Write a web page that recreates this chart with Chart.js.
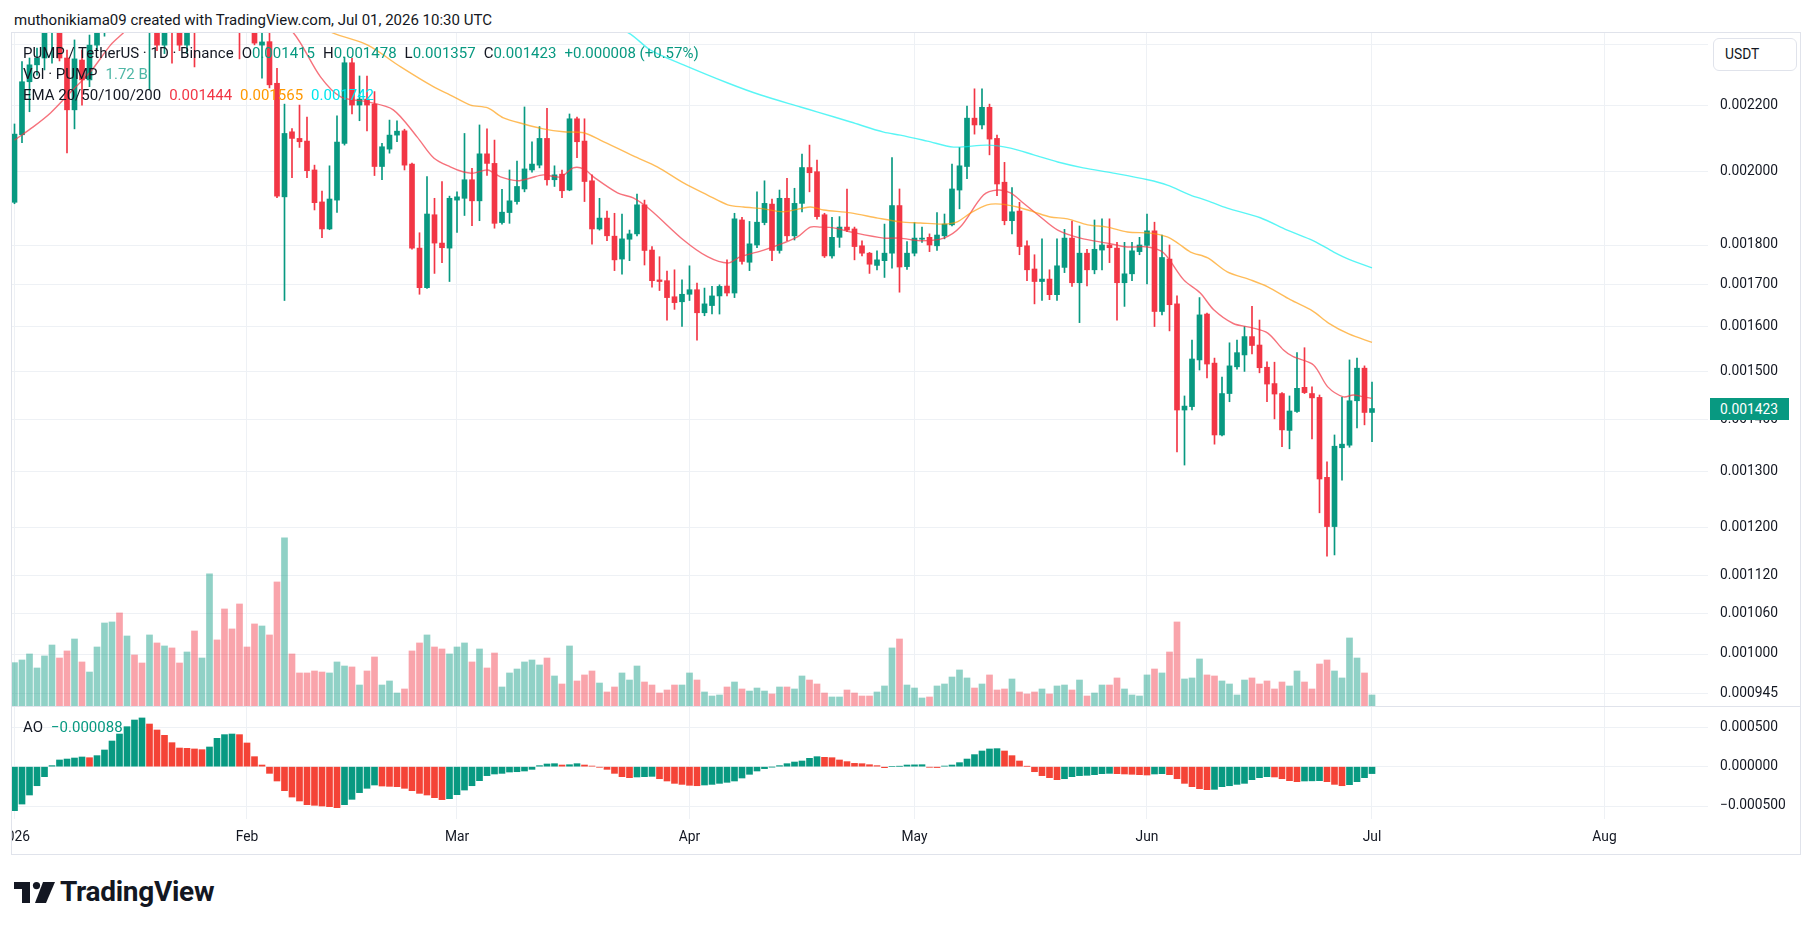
<!DOCTYPE html>
<html>
<head>
<meta charset="utf-8">
<title>PUMP / TetherUS · 1D · Binance</title>
<script src="https://cdn.jsdelivr.net/npm/chart.js@4.4.1/dist/chart.umd.min.js"></script>
<style>
  html, body { margin:0; padding:0; background:#ffffff; }
  body { width:1814px; height:930px; position:relative; overflow:hidden;
         font-family: Roboto, "Noto Sans", "DejaVu Sans", sans-serif; color:#131722; }
  .abs { position:absolute; white-space:nowrap; }
  canvas { position:absolute; display:block; }
  #title { left:14px; top:10px; font-size:15px; line-height:20px; }
  .leg { left:23px; font-size:15px; line-height:20px; }
  .g { color:#089981; }
  .sp { margin-left:8px; }
  #frame { left:11px; top:32px; width:1790px; height:823px; border:1px solid #e0e3eb; box-sizing:border-box; pointer-events:none; }
  #sep { left:12px; top:706px; width:1788px; height:1px; background:#e0e3eb; }
  #usdt { left:1713px; top:38px; width:84px; height:33px; border:1px solid #e0e3eb; border-radius:6px; box-sizing:border-box; background:#fff; font-size:13.8px; line-height:31px; padding-left:11px; }
  #tag { left:1710px; top:397px; width:79px; height:22px; background:#089981; color:#fff; font-size:13.8px; line-height:22px; padding-left:10px; box-sizing:border-box; }
  #logo { left:14px; top:882px; }
  #logotext { left:60px; top:875px; font-size:28px; font-weight:700; line-height:34px; letter-spacing:-0.3px; color:#131722; }
</style>
</head>
<body>
<div id="title" class="abs">muthonikiama09 created with TradingView.com, Jul 01, 2026 10:30 UTC</div>
<canvas id="main" width="1788" height="674" style="left:12px;top:32px"></canvas>
<canvas id="ao" width="1788" height="148" style="left:12px;top:706px"></canvas>
<div id="sep" class="abs"></div>
<div id="frame" class="abs"></div>

<div class="abs leg" style="top:43px"><span id="sym">PUMP / TetherUS · 1D · Binance</span><span class="sp">O</span><span class="g" id="vO"></span><span class="sp">H</span><span class="g" id="vH"></span><span class="sp">L</span><span class="g" id="vL"></span><span class="sp">C</span><span class="g" id="vC"></span><span class="sp g" id="vChg"></span></div>
<div class="abs leg" style="top:64px">Vol · PUMP<span class="sp" style="color:#4fb7a6" id="vVol"></span></div>
<div class="abs leg" style="top:85px">EMA 20/50/100/200<span class="sp" style="color:#f23645" id="vE20"></span><span class="sp" style="color:#ff9800" id="vE50"></span><span class="sp" style="color:#00e5ee" id="vE100"></span></div>
<div class="abs leg" style="top:717px">AO<span class="sp g" id="vAO"></span></div>

<div id="usdt" class="abs">USDT</div>
<div id="tag" class="abs"></div>

<svg id="logo" class="abs" width="42" height="22" viewBox="0 0 42 22">
  <rect x="0" y="0" width="16" height="7" fill="#131722"/>
  <rect x="8" y="0" width="8" height="21" fill="#131722"/>
  <circle cx="22.5" cy="3.6" r="3.6" fill="#131722"/>
  <polygon points="29,0 41,0 32,21 21,21" fill="#131722"/>
</svg>
<div id="logotext" class="abs">TradingView</div>

<script>
// ---------------- DATA (prices in units of 0.001 USDT) ----------------
const PRICE_UNIT = 1e-3;
const startDate = '2026-01-01';           // day index 0
const monthTickDays   = [0, 31, 59, 90, 120, 151, 181, 212];
const monthTickLabels = ['2026', 'Feb', 'Mar', 'Apr', 'May', 'Jun', 'Jul', 'Aug'];
const priceTicks = [0.000945, 0.001, 0.00106, 0.00112, 0.0012, 0.0013, 0.0014, 0.0015, 0.0016, 0.0017, 0.0018, 0.002, 0.0022, 0.0024];
const priceTicksUnlabeled = [0.0024];     // gridline only (label sits under the currency box)
const aoTicks = [-0.0005, 0, 0.0005];

const opensM = [
1.914,2.109,2.276,2.332,2.355,2.480,2.560,2.355,2.186,2.348,
2.282,2.399,2.470,2.520,2.600,2.550,2.680,2.630,2.570,2.640,
2.399,2.550,2.500,2.399,2.490,2.460,2.550,2.620,2.580,2.530,
2.490,2.460,2.455,2.399,2.411,2.271,1.929,2.118,2.098,2.090,
2.005,1.915,1.842,1.920,2.083,2.339,2.201,2.220,2.204,2.015,
2.066,2.108,2.121,2.022,1.792,1.693,1.880,1.805,1.792,1.920,
1.925,1.977,1.918,2.052,2.024,1.859,1.886,1.916,1.951,2.005,
2.019,2.098,1.977,1.993,1.948,2.158,2.090,1.974,1.842,1.871,
1.823,1.764,1.815,1.829,1.907,1.787,1.712,1.710,1.671,1.659,
1.677,1.688,1.633,1.650,1.673,1.697,1.680,1.866,1.756,1.800,
1.859,1.909,1.786,1.925,1.824,1.911,2.012,2.000,1.880,1.772,
1.820,1.847,1.842,1.798,1.779,1.748,1.760,1.779,1.905,1.745,
1.779,1.815,1.820,1.798,1.824,1.853,1.948,2.015,2.160,2.139,
2.194,2.098,1.970,1.864,1.890,1.798,1.739,1.708,1.714,1.676,
1.743,1.818,1.705,1.779,1.737,1.787,1.800,1.792,1.705,1.727,
1.783,1.799,1.837,1.636,1.764,1.654,1.420,1.427,1.526,1.630,
1.519,1.370,1.454,1.511,1.537,1.578,1.559,1.510,1.475,1.454,
1.379,1.417,1.467,1.454,1.446,1.289,1.201,1.345,1.350,1.439,
1.508,1.415];
const highsM = [
2.142,2.343,2.355,2.389,2.520,2.600,2.620,2.382,2.417,2.382,
2.434,2.500,2.560,2.640,2.660,2.720,2.740,2.660,2.680,2.660,
2.580,2.600,2.540,2.520,2.550,2.600,2.660,2.660,2.610,2.560,
2.530,2.500,2.500,2.470,2.460,2.320,2.204,2.128,2.201,2.163,
2.019,1.945,2.017,2.167,2.358,2.355,2.295,2.295,2.244,2.083,
2.154,2.152,2.126,2.025,1.832,1.986,1.925,1.972,1.931,1.943,
2.113,2.010,2.139,2.127,2.093,1.950,2.005,2.031,2.195,2.088,
2.134,2.191,2.017,2.005,2.173,2.163,2.158,1.991,1.925,1.890,
1.884,1.882,1.839,1.937,1.920,1.796,1.770,1.734,1.737,1.712,
1.747,1.704,1.692,1.696,1.700,1.762,1.884,1.873,1.862,1.943,
1.974,1.923,1.948,1.981,1.953,2.051,2.078,2.034,1.884,1.873,
1.875,1.951,1.847,1.811,1.781,1.785,1.855,2.041,1.951,1.809,
1.859,1.847,1.829,1.886,1.882,2.022,2.071,2.198,2.253,2.253,
2.204,2.108,2.027,1.955,1.914,1.811,1.775,1.816,1.737,1.816,
1.841,1.863,1.850,1.789,1.866,1.869,1.869,1.807,1.807,1.807,
1.820,1.882,1.860,1.826,1.800,1.673,1.449,1.570,1.669,1.632,
1.530,1.489,1.564,1.570,1.601,1.648,1.616,1.522,1.521,1.456,
1.449,1.542,1.553,1.468,1.451,1.318,1.370,1.446,1.526,1.530,
1.513,1.478];
const lowsM = [
1.910,2.085,2.180,2.298,2.315,2.338,2.345,2.055,2.127,2.201,
2.260,2.382,2.430,2.490,2.520,2.530,2.600,2.530,2.249,2.380,
2.370,2.338,2.380,2.370,2.325,2.450,2.520,2.540,2.490,2.460,
2.352,2.450,2.400,2.288,2.256,1.927,1.662,1.983,2.071,1.983,
1.893,1.819,1.840,1.886,2.078,2.173,2.152,2.121,1.989,1.977,
2.054,2.088,2.005,1.789,1.677,1.691,1.728,1.755,1.708,1.833,
1.878,1.851,1.864,1.989,1.844,1.855,1.857,1.909,1.943,1.999,
2.011,1.962,1.958,1.927,1.946,2.041,1.916,1.802,1.839,1.811,
1.735,1.726,1.760,1.824,1.749,1.694,1.686,1.616,1.641,1.601,
1.662,1.570,1.626,1.630,1.630,1.673,1.669,1.751,1.735,1.793,
1.853,1.760,1.779,1.811,1.813,1.888,1.943,1.868,1.768,1.766,
1.794,1.835,1.762,1.772,1.728,1.737,1.718,1.741,1.682,1.738,
1.772,1.807,1.783,1.786,1.816,1.850,1.896,1.980,2.111,2.127,
2.049,1.932,1.853,1.829,1.775,1.710,1.654,1.662,1.664,1.662,
1.730,1.696,1.610,1.697,1.727,1.737,1.755,1.616,1.648,1.710,
1.775,1.702,1.601,1.628,1.591,1.337,1.312,1.420,1.504,1.487,
1.352,1.368,1.437,1.506,1.501,1.539,1.498,1.437,1.402,1.347,
1.343,1.415,1.454,1.362,1.225,1.151,1.153,1.284,1.346,1.384,
1.390,1.357];
const closesM = [
2.111,2.276,2.332,2.355,2.480,2.560,2.355,2.186,2.352,2.282,
2.399,2.470,2.520,2.600,2.550,2.680,2.630,2.570,2.640,2.399,
2.550,2.500,2.399,2.480,2.460,2.550,2.620,2.580,2.530,2.490,
2.460,2.455,2.406,2.410,2.266,1.931,2.113,2.098,2.088,2.003,
1.913,1.842,1.923,2.087,2.339,2.201,2.220,2.201,2.015,2.073,
2.108,2.120,2.019,1.792,1.693,1.882,1.805,1.793,1.925,1.929,
1.977,1.918,2.052,2.024,1.857,1.887,1.918,1.958,2.008,2.022,
2.098,1.977,1.991,1.946,2.158,2.088,1.972,1.842,1.871,1.824,
1.762,1.816,1.829,1.907,1.786,1.710,1.708,1.669,1.657,1.677,
1.688,1.633,1.654,1.673,1.696,1.680,1.869,1.758,1.803,1.860,
1.911,1.786,1.925,1.824,1.911,2.012,1.997,1.875,1.772,1.820,
1.847,1.839,1.796,1.779,1.751,1.762,1.779,1.905,1.744,1.779,
1.818,1.818,1.800,1.826,1.855,1.951,2.017,2.160,2.139,2.194,
2.096,1.965,1.864,1.888,1.796,1.737,1.708,1.714,1.676,1.747,
1.818,1.705,1.779,1.737,1.789,1.800,1.793,1.705,1.727,1.785,
1.800,1.837,1.636,1.768,1.652,1.420,1.428,1.528,1.628,1.517,
1.370,1.454,1.513,1.542,1.578,1.558,1.509,1.474,1.453,1.380,
1.418,1.465,1.456,1.445,1.286,1.201,1.348,1.352,1.439,1.508,
1.415,1.423];
// volume in billions of PUMP
const volumesB = [
6.77,7.19,8.13,5.94,7.82,9.53,7.50,8.60,10.47,6.88,
5.31,9.22,12.97,13.13,14.54,10.94,7.97,6.72,11.10,9.85,
9.38,9.07,6.72,8.44,11.72,7.50,20.63,10.32,15.16,12.04,
15.94,9.22,12.82,12.50,11.10,19.38,26.26,8.13,5.16,5.16,
5.47,5.31,5.16,6.88,6.25,6.10,3.28,5.47,7.66,3.28,
3.91,2.03,2.66,8.60,9.85,11.10,9.22,8.91,8.13,9.22,
9.85,6.88,8.91,5.94,8.28,2.97,5.16,5.78,6.88,7.19,
6.41,7.50,4.69,3.44,9.38,3.91,4.85,5.47,3.59,2.19,
2.97,5.16,4.06,6.25,3.75,3.28,2.03,2.50,3.28,3.28,
5.16,4.06,2.19,1.56,1.72,2.97,3.75,2.66,2.34,2.81,
2.34,1.88,2.97,2.97,2.66,4.69,4.06,3.44,2.03,1.41,
1.41,2.50,2.03,1.56,1.56,2.19,3.13,9.07,10.47,3.28,
2.81,1.25,1.41,3.13,3.44,4.53,5.63,4.38,2.81,3.44,
4.85,2.50,2.66,4.22,2.19,1.88,2.19,2.66,1.88,3.13,
3.28,2.50,4.06,1.56,2.03,3.28,3.28,4.38,2.66,1.72,
1.56,4.85,5.78,5.16,8.44,13.13,4.22,4.38,7.35,4.85,
4.69,3.91,3.44,1.72,4.06,4.38,3.44,3.91,2.66,3.75,
3.13,5.47,3.75,2.66,6.56,7.19,5.47,4.38,10.63,7.50,
5.16,1.72];
// Awesome Oscillator, units of 0.000001
const aoMicro = [
-559,-475,-360,-242,-127,13,85,97,110,123,
114,140,212,326,415,508,593,619,542,466,
398,305,237,233,225,216,250,360,407,415,
407,301,127,21,-85,-182,-305,-386,-436,-483,
-491,-500,-508,-521,-483,-415,-330,-275,-233,-246,
-250,-254,-275,-305,-339,-360,-394,-419,-407,-356,
-297,-242,-178,-114,-93,-85,-68,-64,-55,-34,
13,34,38,21,25,38,21,8,-8,-34,
-85,-127,-140,-131,-127,-123,-153,-182,-212,-225,
-237,-242,-233,-225,-212,-199,-182,-144,-97,-55,
-25,-4,13,38,59,72,106,127,119,114,
85,64,42,38,25,13,-13,0,4,21,
23,25,-8,-11,8,21,51,97,153,199,
225,229,199,140,72,4,-64,-114,-140,-165,
-153,-127,-114,-110,-102,-89,-85,-89,-93,-97,
-102,-106,-93,-89,-102,-153,-212,-254,-280,-292,
-288,-254,-242,-225,-212,-165,-140,-127,-131,-153,
-178,-191,-182,-180,-178,-191,-225,-242,-229,-191,
-140,-88];
// EMA lines (day index, value in 0.001 USDT)
const ema20Days = [0,2.5,4.8,7.5,10.1,12.8,14.5,18,22,26,30,34,37.2,40.8,43.5,47.1,50.5,53.7,55.9,58.1,59.9,61.2,63.1,64.8,67.1,68.8,70.5,72.8,74.5,75.9,77.2,80.4,82.5,84.8,89.2,92.4,95.1,96.8,99.9,102.5,104.4,106.1,107.5,109.2,111.5,115.9,118.1,120.8,123.9,126.1,129.2,131.1,132.8,134.5,136.8,139.1,142.1,145.7,148.4,151.1,153.2,155.9,158.1,159.9,162.5,164.8,167.1,169.2,170.5,173.2,175.1,177.2,178.5,179.9,181];
const ema20M = [2.093,2.133,2.176,2.243,2.308,2.399,2.441,2.53,2.60,2.62,2.58,2.50,2.441,2.292,2.227,2.211,2.186,2.102,2.040,2.014,1.999,1.996,2.005,1.985,1.974,1.982,1.991,1.985,2.011,2.008,1.985,1.940,1.926,1.893,1.813,1.770,1.754,1.770,1.787,1.805,1.821,1.847,1.847,1.845,1.834,1.818,1.818,1.811,1.818,1.847,1.934,1.948,1.940,1.912,1.874,1.839,1.818,1.805,1.795,1.795,1.780,1.712,1.680,1.640,1.608,1.599,1.586,1.548,1.533,1.515,1.468,1.447,1.451,1.447,1.444];
const ema50Days = [0,10,20,30,38,42.5,47.1,51.5,55.9,58.1,60.8,63.1,65.2,67.9,70.5,73.2,75.9,78.1,82.5,85.7,89.2,92.4,95.1,97.2,99.9,102.5,106.1,107.9,111.5,115.1,118.1,120.8,123.9,125.7,127.5,129.7,131.5,133.7,135.9,138.1,140.4,143.1,145.7,148.4,151.5,153.7,155.1,156.8,159.1,161.7,164.8,167.1,170.1,173.1,175.2,177.9,181];
const ema50M = [2.62,2.60,2.60,2.57,2.50,2.441,2.399,2.325,2.259,2.233,2.201,2.192,2.161,2.142,2.127,2.118,2.115,2.093,2.046,2.014,1.968,1.934,1.907,1.901,1.896,1.888,1.901,1.893,1.885,1.871,1.861,1.858,1.855,1.861,1.885,1.907,1.909,1.901,1.888,1.874,1.869,1.853,1.847,1.834,1.831,1.821,1.805,1.782,1.767,1.732,1.712,1.695,1.664,1.637,1.609,1.584,1.565];
const ema100Days = [0,30,60,75,81.9,84.8,89.2,95.1,99.5,104.8,107.1,111.5,115.9,118.1,121.7,125.2,129.7,132.8,135.9,139.1,142.5,146.5,151.1,153.7,156.8,159.1,161.7,166.1,169.7,173.2,175.9,178.1,181];
const ema100M = [2.95,2.85,2.66,2.52,2.441,2.382,2.332,2.272,2.233,2.195,2.179,2.148,2.117,2.108,2.090,2.072,2.078,2.069,2.049,2.028,2.011,1.996,1.977,1.962,1.934,1.918,1.898,1.872,1.839,1.811,1.782,1.762,1.742];

// ---------------- derived ----------------
const toPrice = a => a.map(v => v * PRICE_UNIT);
const opens = toPrice(opensM), highs = toPrice(highsM), lows = toPrice(lowsM), closes = toPrice(closesM);
const ao = aoMicro.map(v => v * 1e-6);
const N = closes.length;

const TEAL = '#089981', RED = '#F23645';
const GRID = '#eef1f5';
const TXT = '#131722';
const TICK_FONT = { size: 13.8 };
Chart.defaults.font.family = 'Roboto, "Noto Sans", sans-serif';
Chart.defaults.color = TXT;

const candleColors = opens.map((o, i) => closes[i] >= o ? TEAL : RED);
const volColors = opens.map((o, i) => closes[i] >= o ? 'rgba(8,153,129,0.45)' : 'rgba(242,54,69,0.45)');
const aoColors = ao.map((v, i) => (i === 0 || v >= ao[i - 1]) ? '#089981' : '#F44336');

const wickData = lows.map((l, i) => ({ x: i, y: [l, highs[i]] }));
const bodyData = opens.map((o, i) => ({ x: i, y: [o, closes[i]] }));
const volData = volumesB.map((v, i) => ({ x: i, y: v }));
const aoData = ao.map((v, i) => ({ x: i, y: v }));
const line = (days, vals) => days.map((d, k) => ({ x: d, y: vals[k] * PRICE_UNIT }));

const X_MIN = -0.333, X_MAX = 225.8;
const fmt6 = v => (v < 0 ? '\u2212' : '') + Math.abs(v).toFixed(6);
const noPad = s => { s.paddingLeft = 0; s.paddingRight = 0; s.paddingTop = 0; s.paddingBottom = 0; };

const mainChart = new Chart(document.getElementById('main'), {
  type: 'bar',
  data: {
    datasets: [
      { type: 'bar', data: volData, yAxisID: 'yVol', backgroundColor: volColors, barThickness: 6, grouped: false, order: 5, clip: 0 },
      { type: 'bar', data: wickData, yAxisID: 'y', backgroundColor: candleColors, barThickness: 1, grouped: false, order: 3, clip: 0 },
      { type: 'bar', data: bodyData, yAxisID: 'y', backgroundColor: candleColors, barThickness: 5, minBarLength: 1, grouped: false, order: 2, clip: 0 },
      { type: 'line', data: line(ema100Days, ema100M), yAxisID: 'y', borderColor: 'rgba(0,240,240,0.65)', borderWidth: 1.4, pointRadius: 0, tension: 0.3, order: 1, clip: 0 },
      { type: 'line', data: line(ema50Days, ema50M), yAxisID: 'y', borderColor: 'rgba(255,152,0,0.65)', borderWidth: 1.4, pointRadius: 0, tension: 0.3, order: 1, clip: 0 },
      { type: 'line', data: line(ema20Days, ema20M), yAxisID: 'y', borderColor: 'rgba(242,54,69,0.7)', borderWidth: 1.4, pointRadius: 0, tension: 0.3, order: 1, clip: 0 }
    ]
  },
  options: {
    responsive: false, animation: false, devicePixelRatio: 1, events: [],
    layout: { padding: 0, autoPadding: false },
    plugins: { legend: { display: false }, tooltip: { enabled: false } },
    scales: {
      x: {
        type: 'linear', min: X_MIN, max: X_MAX, bounds: 'data', offset: false,
        grid: { color: GRID, drawTicks: false, offset: false }, border: { display: false },
        ticks: { display: false },
        afterBuildTicks: s => { s.ticks = monthTickDays.map(v => ({ value: v })); },
        afterFit: s => { s.height = 0; noPad(s); }
      },
      y: {
        type: 'logarithmic', position: 'right', min: 0.000928, max: 0.0024447, bounds: 'data',
        grid: { color: GRID, drawTicks: false }, border: { display: false },
        ticks: { padding: 12, color: TXT, font: TICK_FONT, autoSkip: false,
                 callback: v => priceTicksUnlabeled.includes(v) ? '' : Number(v).toFixed(6) },
        afterBuildTicks: s => { s.ticks = priceTicks.map(v => ({ value: v })); },
        afterFit: s => { s.width = 92; noPad(s); }
      },
      yVol: { type: 'linear', display: false, min: 0, max: 105.3, afterFit: s => noPad(s) }
    }
  }
});

new Chart(document.getElementById('ao'), {
  type: 'bar',
  data: { datasets: [ { data: aoData, backgroundColor: aoColors, barThickness: 6, grouped: false, clip: 0 } ] },
  options: {
    responsive: false, animation: false, devicePixelRatio: 1, events: [],
    layout: { padding: 0, autoPadding: false },
    plugins: { legend: { display: false }, tooltip: { enabled: false } },
    scales: {
      x: {
        type: 'linear', min: X_MIN, max: X_MAX, bounds: 'data', offset: false,
        grid: { color: GRID, drawTicks: false, offset: false }, border: { display: false },
        ticks: { padding: 10, color: TXT, font: TICK_FONT, autoSkip: false, maxRotation: 0,
                 callback: (v, i) => monthTickLabels[i] },
        afterBuildTicks: s => { s.ticks = monthTickDays.map(v => ({ value: v })); },
        afterFit: s => { s.height = 35; noPad(s); }
      },
      y: {
        type: 'linear', position: 'right', min: -0.000665, max: 0.000771, bounds: 'data',
        grid: { color: GRID, drawTicks: false }, border: { display: false },
        ticks: { padding: 12, color: TXT, font: TICK_FONT, autoSkip: false, callback: v => fmt6(v) },
        afterBuildTicks: s => { s.ticks = aoTicks.map(v => ({ value: v })); },
        afterFit: s => { s.width = 92; noPad(s); }
      }
    }
  }
});

// ---------------- legend texts from data ----------------
const last = N - 1;
document.getElementById('vO').textContent = opens[last].toFixed(6);
document.getElementById('vH').textContent = highs[last].toFixed(6);
document.getElementById('vL').textContent = lows[last].toFixed(6);
document.getElementById('vC').textContent = closes[last].toFixed(6);
const chg = closes[last] - closes[last - 1];
document.getElementById('vChg').textContent = (chg >= 0 ? '+' : '\u2212') + Math.abs(chg).toFixed(6) + ' (' + (chg >= 0 ? '+' : '\u2212') + Math.abs(chg / closes[last - 1] * 100).toFixed(2) + '%)';
document.getElementById('vVol').textContent = volumesB[last].toFixed(2) + ' B';
document.getElementById('vE20').textContent = (ema20M[ema20M.length - 1] * PRICE_UNIT).toFixed(6);
document.getElementById('vE50').textContent = (ema50M[ema50M.length - 1] * PRICE_UNIT).toFixed(6);
document.getElementById('vE100').textContent = (ema100M[ema100M.length - 1] * PRICE_UNIT).toFixed(6);
document.getElementById('vAO').textContent = fmt6(ao[last]);

const tag = document.getElementById('tag');
tag.textContent = closes[last].toFixed(6);
const yPix = mainChart.scales.y.getPixelForValue(closes[last]);
tag.style.top = Math.round(32 + yPix - 11) + 'px';
</script>
</body>
</html>
